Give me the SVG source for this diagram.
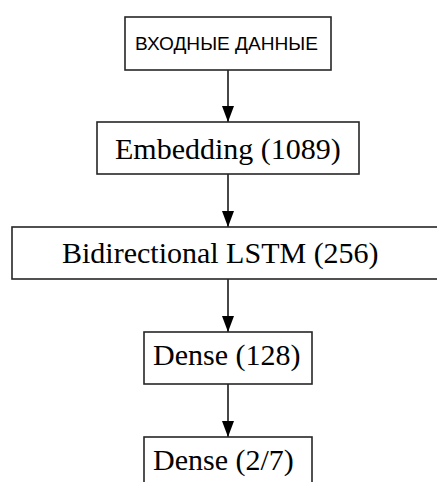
<svg xmlns="http://www.w3.org/2000/svg" width="437" height="482" viewBox="0 0 437 482">
<defs>
<style>
.box{fill:#fff;stroke:#262626;stroke-width:1.6}
.lbl{font-family:"Liberation Serif","Times New Roman",serif;font-size:30px;fill:#000}
.sans{font-family:"Liberation Sans",Arial,sans-serif;font-size:19px;fill:#000}
.edge{stroke:#1a1a1a;stroke-width:1.6;fill:none;marker-end:url(#ah)}
</style>
<marker id="ah" viewBox="0 0 16 12" refX="16" refY="6" markerWidth="16" markerHeight="12" markerUnits="userSpaceOnUse" orient="auto">
<path d="M0,0 L16,6 L0,12 Z" fill="#000"/>
</marker>
</defs>
<rect width="437" height="482" fill="#fff"/>
<g id="connectors">
<line class="edge" x1="228" y1="70" x2="228" y2="122"/>
<line class="edge" x1="228" y1="174" x2="228" y2="227"/>
<line class="edge" x1="228" y1="279" x2="228" y2="332"/>
<line class="edge" x1="228" y1="384" x2="228" y2="437"/>
</g>
<g id="input">
<rect class="box" x="125" y="17" width="206" height="53"/>
<text class="sans" x="135" y="49.5" textLength="183" lengthAdjust="spacingAndGlyphs">ВХОДНЫЕ ДАННЫЕ</text>
</g>
<g id="embedding">
<rect class="box" x="97" y="122" width="262" height="52"/>
<text class="lbl" x="115" y="159">Embedding (1089)</text>
</g>
<g id="bilstm">
<rect class="box" x="12" y="227" width="440" height="52"/>
<text class="lbl" x="62" y="263">Bidirectional LSTM (256)</text>
</g>
<g id="dense128">
<rect class="box" x="144" y="332" width="168" height="52"/>
<text class="lbl" x="153" y="365">Dense (128)</text>
</g>
<g id="dense27">
<rect class="box" x="144" y="437" width="168" height="60"/>
<text class="lbl" x="153" y="470">Dense (2/7)</text>
</g>
</svg>
